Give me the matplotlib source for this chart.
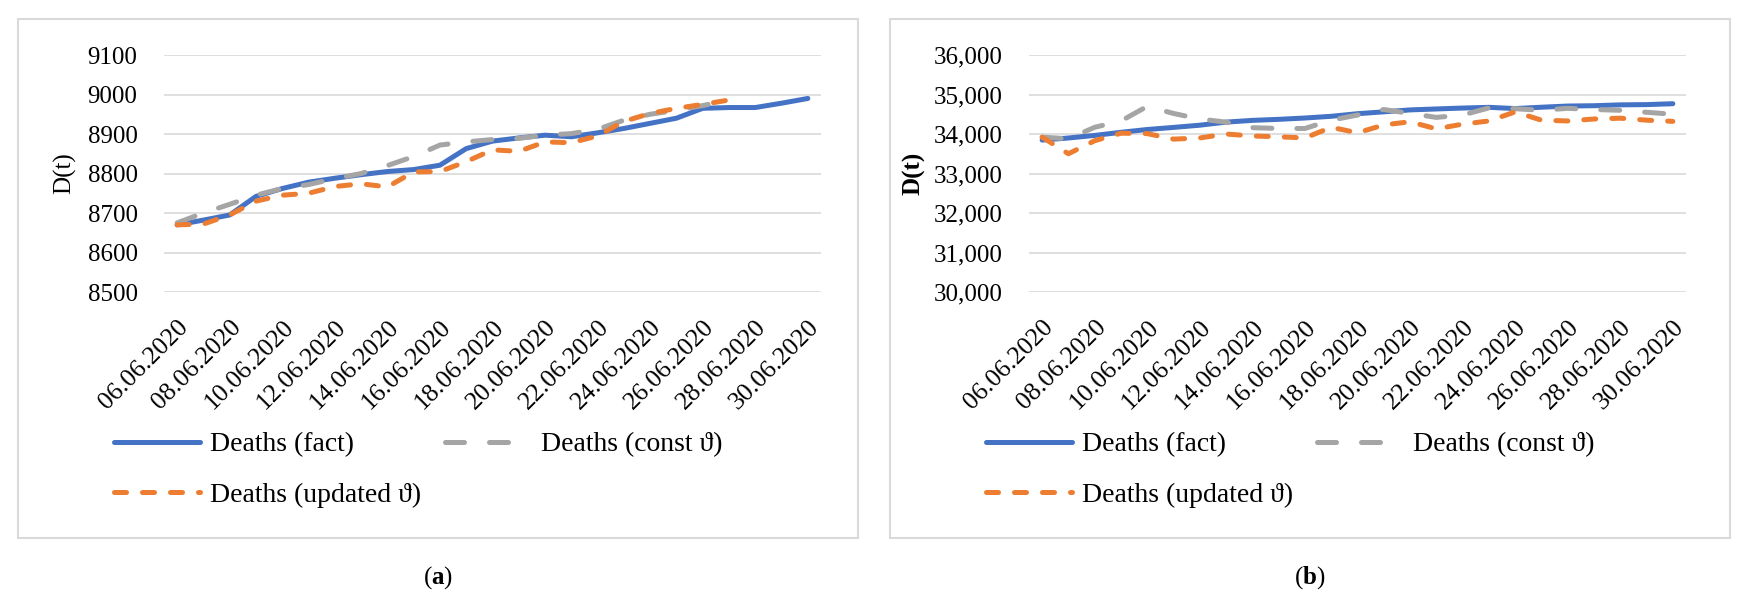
import matplotlib.pyplot as plt
from matplotlib.patches import Rectangle
from matplotlib.ticker import FuncFormatter
from matplotlib.transforms import ScaledTranslation

plt.rcParams["font.family"] = ["Liberation Serif", "DejaVu Serif"]
plt.rcParams["mathtext.fontset"] = "custom"
plt.rcParams["mathtext.rm"] = "Liberation Serif"
plt.rcParams["mathtext.bf"] = "Liberation Serif:bold"

# Dates 06.06.2020 .. 30.06.2020, one point per day
DATES = [f"{d:02d}.06.2020" for d in range(6, 31)]

# (a) Germany
A_FACT = [8670, 8682, 8695, 8742, 8762, 8778, 8788, 8797, 8805, 8810, 8821, 8863,
          8882, 8890, 8897, 8893, 8903, 8914, 8927, 8940, 8965, 8967, 8967, 8978, 8990]
A_CONST = [8675, 8700, 8722, 8745, 8762, 8772, 8787, 8800, 8820, 8843, 8872, 8880,
           8886, 8889, 8897, 8901, 8912, 8935, 8950, 8960, 8972, 8986]
A_UPD = [8670, 8672, 8695, 8730, 8745, 8750, 8767, 8774, 8766, 8804, 8805, 8830,
         8860, 8856, 8880, 8878, 8895, 8932, 8952, 8965, 8975, 8986]

# (b) Italy
B_FACT = [33846, 33899, 33964, 34043, 34114, 34167, 34223, 34301, 34345, 34371, 34405, 34448,
          34514, 34561, 34610, 34634, 34657, 34675, 34644, 34678, 34708, 34716, 34738, 34744, 34767]
B_CONST = [33920, 33880, 34170, 34330, 34700, 34520, 34380, 34300, 34160, 34140, 34140, 34350,
           34480, 34620, 34520, 34420, 34480, 34660, 34640, 34600, 34650, 34620, 34600, 34550, 34500]
B_UPD = [33920, 33500, 33830, 34020, 34010, 33870, 33900, 34000, 33950, 33930, 33900, 34170,
         34030, 34230, 34310, 34130, 34250, 34330, 34560, 34350, 34330, 34380, 34400, 34350, 34320]

BLUE, GRAY, ORANGE = "#4472C4", "#A5A5A5", "#ED7D31"
GRID = "#D9D9D9"
W, H = 1751, 605
FS_Y, FS_X, FS_LEG = 18, 18.5, 20
LW = 3.6


def px_rect(x0, x1, ytop, ybot):
    return [x0 / W, (H - ybot) / H, (x1 - x0) / W, (ybot - ytop) / H]


def draw_panel(fig, rect, box, legend_x, fact, const, upd, ylim, yticks, fmt,
               bold_label, label_x, caption):
    fig.add_artist(Rectangle((box[0] / W, (H - box[3]) / H), (box[1] - box[0]) / W,
                             (box[3] - box[2]) / H, transform=fig.transFigure,
                             fill=False, edgecolor=GRID, lw=1.5))
    ax = fig.add_axes(rect)
    x = list(range(len(DATES)))
    ax.plot(x[:len(fact)], fact, color=BLUE, lw=LW, solid_capstyle="round",
            label="Deaths (fact)")
    ax.plot(x[:len(const)], const, color=GRAY, lw=LW, dashes=(3.8, 5.0),
            dash_capstyle="round", label="Deaths (const \u03d1)")
    ax.plot(x[:len(upd)], upd, color=ORANGE, lw=LW, dashes=(2.4, 3.2),
            dash_capstyle="round", label="Deaths (updated \u03d1)")
    ax.set_xlim(-0.5, len(DATES) - 0.5)
    ax.set_ylim(*ylim)
    ax.set_yticks(yticks)
    ax.yaxis.set_major_formatter(FuncFormatter(fmt))
    ax.set_xticks(x[::2])
    ax.set_xticklabels(DATES[::2], rotation=45, ha="right", va="top",
                       rotation_mode="anchor", fontsize=FS_X)
    shift = ScaledTranslation(6 / 100, 0, fig.dpi_scale_trans)
    for t in ax.get_xticklabels():
        t.set_transform(t.get_transform() + shift)
    ax.tick_params(axis="both", length=0, colors="#000000")
    ax.tick_params(axis="y", pad=19, labelsize=FS_Y)
    ax.tick_params(axis="x", pad=17)
    ax.grid(axis="y", color=GRID, lw=1.2)
    ax.set_axisbelow(True)
    for s in ax.spines.values():
        s.set_visible(False)
    ax.set_ylabel("D(t)", fontsize=FS_Y, fontweight="bold" if bold_label else "normal")
    ax.yaxis.set_label_coords((label_x - rect[0] * W) / (rect[2] * W), 0.5)
    h, l = ax.get_legend_handles_labels()
    order = [0, 2, 1]
    ax.legend([h[i] for i in order], [l[i] for i in order], ncol=2, frameon=False,
              loc="upper left", bbox_to_anchor=(legend_x / W, (H - 432) / H),
              bbox_transform=fig.transFigure, fontsize=FS_LEG, handlelength=3.1,
              handletextpad=0.36, columnspacing=0.85, labelspacing=0.9,
              borderpad=0, borderaxespad=0)
    fig.text((box[0] + box[1]) / 2 / W, (H - 578) / H, caption, ha="center",
             va="center", fontsize=FS_Y)
    return ax


fig = plt.figure(figsize=(W / 100, H / 100), dpi=100)
fig.patch.set_facecolor("white")

draw_panel(fig, px_rect(164, 821, 55, 292), (18, 858, 19, 538), 114,
           A_FACT, A_CONST, A_UPD, (8500, 9100), range(8500, 9101, 100),
           lambda v, p: f"{int(v)}", False, 76, r"$(\mathbf{a})$")
draw_panel(fig, px_rect(1029, 1686, 55, 292), (890, 1730, 19, 538), 986,
           B_FACT, B_CONST, B_UPD, (30000, 36000), range(30000, 36001, 1000),
           lambda v, p: f"{int(v):,}", True, 926, r"$(\mathbf{b})$")

fig.savefig("out.png", dpi=100, facecolor="white")
